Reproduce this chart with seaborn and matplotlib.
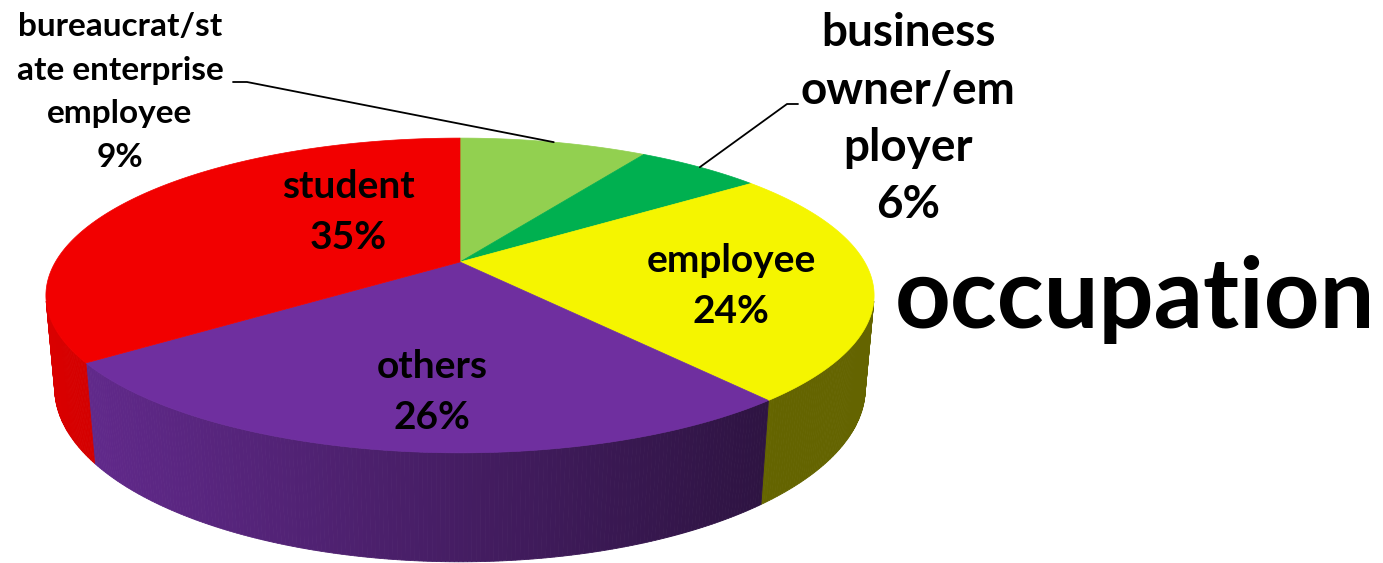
import numpy as np
import matplotlib.pyplot as plt
import seaborn as sns
from matplotlib.patches import Polygon

# data
categories = ["bureaucrat/st\nate enterprise\nemployee", "business\nowner/em\nployer",
              "employee", "others", "student"]
shares = [9, 6, 24, 26, 35]
colors = ["#92d050", "#00b050", "#f5f500", "#6f2f9f", "#f20000"]
title = "occupation"

sns.set_theme(style="white")
plt.rcParams["font.family"] = ["Lato", "DejaVu Sans"]

W, H = 1383, 563
fig = plt.figure(figsize=(W / 100, H / 100), dpi=100)
ax = fig.add_axes([0, 0, 1, 1])
ax.set_xlim(0, W)
ax.set_ylim(H, 0)
ax.axis("off")

# perspective camera for the 3d look
cx, cy = 460, 262
elev = np.radians(21.8)
dist = 4.367
focal = 1767
thick = 0.245


def project(theta, r=1.0, y=0.0):
    X = r * np.sin(theta)
    Z = r * np.cos(theta)
    d = dist - y * np.sin(elev) + Z * np.cos(elev)
    up = y * np.cos(elev) + Z * np.sin(elev)
    return cx + focal * X / d, cy - focal * up / d


def shade(x):
    t = np.clip((x - 46) / (775 - 46), 0, 1)
    return 0.9 - 0.49 * t


pal = sns.color_palette(colors)
bounds = np.cumsum([0] + shares) / sum(shares) * 2 * np.pi

# visible part of the side wall
lim = np.arccos(-1 / (dist * np.cos(elev)))
vis0, vis1 = lim, 2 * np.pi - lim

# walls
for i, col in enumerate(pal):
    a0, a1 = max(bounds[i], vis0), min(bounds[i + 1], vis1)
    if a1 <= a0:
        continue
    th = np.linspace(a0, a1, max(int(np.degrees(a1 - a0) * 2), 2))
    for t0, t1 in zip(th[:-1], th[1:]):
        xa, ya = project(t0)
        xb, yb = project(t1)
        xc, yc = project(t1, y=-thick)
        xd, yd = project(t0, y=-thick)
        f = shade((xa + xb) / 2)
        c = tuple(np.array(col) * f)
        ax.add_patch(Polygon([(xa, ya), (xb, yb), (xc, yc), (xd, yd)],
                             closed=True, facecolor=c, edgecolor=c, lw=0.6))

# tops
for i, col in enumerate(pal):
    th = np.linspace(bounds[i], bounds[i + 1], 200)
    xs, ys = project(th)
    pts = [(cx, cy)] + list(zip(xs, ys))
    ax.add_patch(Polygon(pts, closed=True, facecolor=col, edgecolor=col, lw=0.5))

# labels inside
inner = {2: (731, 286), 3: (432, 392), 4: (348, 212)}
for i, (lx, ly) in inner.items():
    ax.text(lx, ly, f"{categories[i]}\n{shares[i]}%", ha="center", va="center",
            fontsize=28, fontweight="bold", color="black", linespacing=1.55)

# outside labels with leader lines
mid0 = (bounds[0] + bounds[1]) / 2
px, py = project(mid0)
ax.plot([233, 247, px], [82, 82, py], color="black", lw=1.3)
ax.text(120, 92, f"{categories[0]}\n{shares[0]}%", ha="center", va="center",
        fontsize=24, fontweight="bold", color="black", linespacing=1.62)

mid1 = (bounds[1] + bounds[2]) / 2
px, py = project(mid1)
ax.plot([px, 787, 798], [py, 104, 104], color="black", lw=1.3)
ax.text(908, 119, f"{categories[1]}\n{shares[1]}%", ha="center", va="center",
        fontsize=33, fontweight="bold", color="black", linespacing=1.45)

ax.text(1135, 300, title, ha="center", va="center", fontsize=70,
        fontweight="bold", color="black")

fig.savefig("out.png", dpi=100)
